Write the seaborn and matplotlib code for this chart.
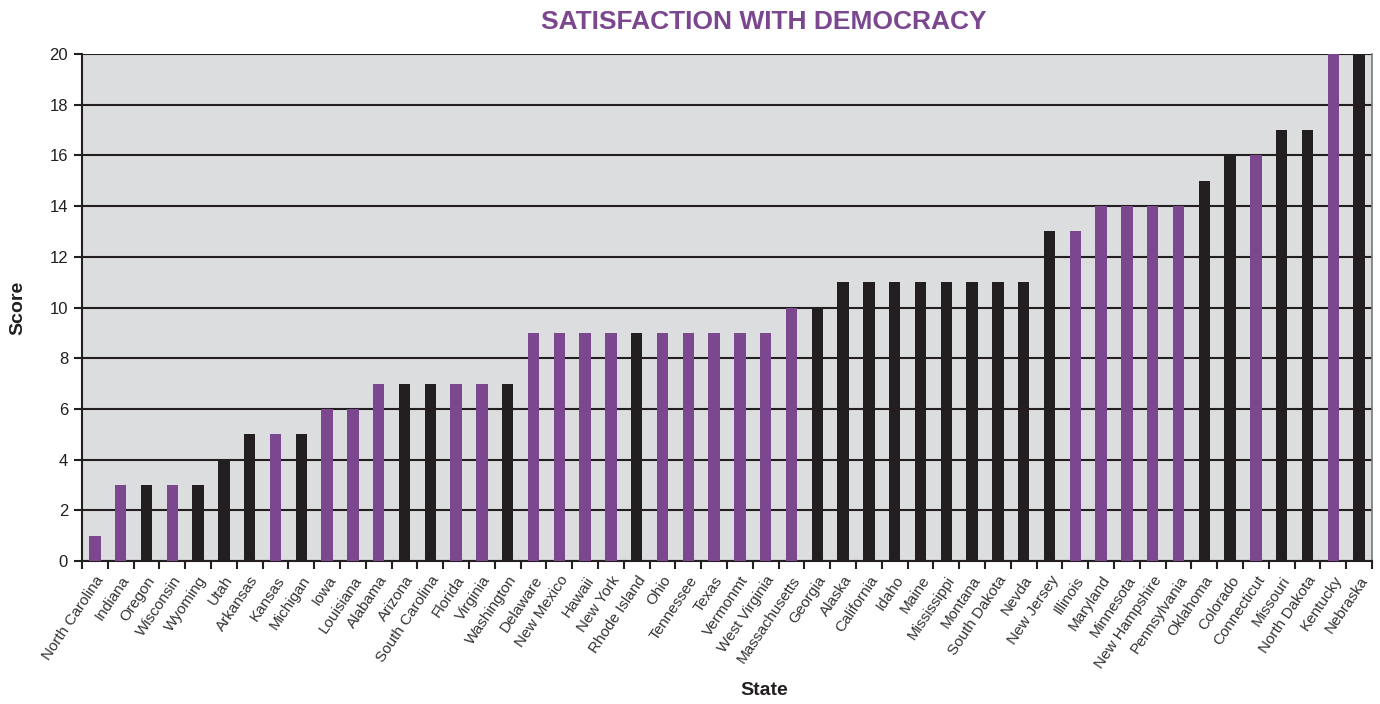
import matplotlib
matplotlib.use("Agg")
import matplotlib.pyplot as plt
import seaborn as sns
import pandas as pd
import numpy as np

states = [
    "North Carolina", "Indiana", "Oregon", "Wisconsin", "Wyoming", "Utah",
    "Arkansas", "Kansas", "Michigan", "Iowa", "Louisiana", "Alabama",
    "Arizona", "South Carolina", "Florida", "Virginia", "Washington",
    "Delaware", "New Mexico", "Hawaii", "New York", "Rhode Island", "Ohio",
    "Tennessee", "Texas", "Vermonmt", "West Virginia", "Massachusetts",
    "Georgia", "Alaska", "California", "Idaho", "Maine", "Mississippi",
    "Montana", "South Dakota", "Nevda", "New Jersey", "Illinois", "Maryland",
    "Minnesota", "New Hampshire", "Pennsylvania", "Oklahoma", "Colorado",
    "Connecticut", "Missouri", "North Dakota", "Kentucky", "Nebraska",
]
scores = [
    1, 3, 3, 3, 3, 4,
    5, 5, 5, 6, 6, 7,
    7, 7, 7, 7, 7,
    9, 9, 9, 9, 9, 9,
    9, 9, 9, 9, 10,
    10, 11, 11, 11, 11, 11,
    11, 11, 11, 13, 13, 14,
    14, 14, 14, 15, 16,
    16, 17, 17, 20, 20,
]
# D = purple group, R = dark group
groups = [
    "D", "D", "R", "D", "R", "R",
    "R", "D", "R", "D", "D", "D",
    "R", "R", "D", "D", "R",
    "D", "D", "D", "D", "R", "D",
    "D", "D", "D", "D", "D",
    "R", "R", "R", "R", "R", "R",
    "R", "R", "R", "R", "D", "D",
    "D", "D", "D", "R", "R",
    "D", "R", "R", "D", "R",
]
y_ticks = [0, 2, 4, 6, 8, 10, 12, 14, 16, 18, 20]

PURPLE = "#7B478E"
DARK = "#231F20"
BG = "#DCDDDF"

df = pd.DataFrame({"State": states, "Score": scores, "Group": groups})

sns.set_theme(style="white")
plt.rcParams["font.family"] = ["Liberation Sans", "DejaVu Sans"]

W, H = 1380, 704
L, R, T, B = 82, 1372, 54, 561
fig = plt.figure(figsize=(W / 100, H / 100), dpi=100)
ax = fig.add_axes([L / W, 1 - B / H, (R - L) / W, (B - T) / H])
ax.set_facecolor(BG)

sns.barplot(
    data=df, x="State", y="Score", hue="Group",
    palette={"D": PURPLE, "R": DARK}, dodge=False, width=0.44,
    saturation=1, legend=False, ax=ax, zorder=3,
    edgecolor="none", linewidth=0,
)

n = len(states)
ax.set_xlim(-0.5, n - 0.5)
ax.set_ylim(0, 20)
ax.set_yticks(y_ticks)
ax.set_yticklabels([str(t) for t in y_ticks], fontsize=12, color=DARK)

for t in y_ticks:
    ax.axhline(t, color=DARK, lw=1.5, zorder=1)

# Category labels, with tick marks at the boundaries between categories
ax.set_xticks(np.arange(n))
ax.set_xticklabels(states, rotation=56, ha="right", rotation_mode="anchor",
                   fontsize=11, color="#333333")
ax.tick_params(axis="x", which="major", length=0, pad=9)
ax.set_xticks(np.arange(n + 1) - 0.5, minor=True)
ax.tick_params(axis="x", which="minor", length=6, width=1.5, color=DARK,
               direction="out", bottom=True)
ax.tick_params(axis="y", length=6, width=1.5, color=DARK, direction="out",
               left=True, pad=4)

for side in ["left", "bottom"]:
    ax.spines[side].set_color(DARK)
    ax.spines[side].set_linewidth(1.5)
ax.spines["top"].set_visible(False)
ax.spines["right"].set_color("#777777")
ax.spines["right"].set_linewidth(1.2)

ax.set_xlabel("State", fontsize=14, fontweight="bold", color=DARK)
ax.set_ylabel("Score", fontsize=14, fontweight="bold", color=DARK)
ax.xaxis.set_label_coords((764 - L) / (R - L), -(682 - B) / (B - T))
ax.yaxis.set_label_coords(-(L - 26) / (R - L), 0.5)

fig.text(764 / W, 1 - 22 / H, "SATISFACTION WITH DEMOCRACY",
         ha="center", va="center", fontsize=19, fontweight="bold", color=PURPLE)

fig.savefig("out.png", dpi=100)
